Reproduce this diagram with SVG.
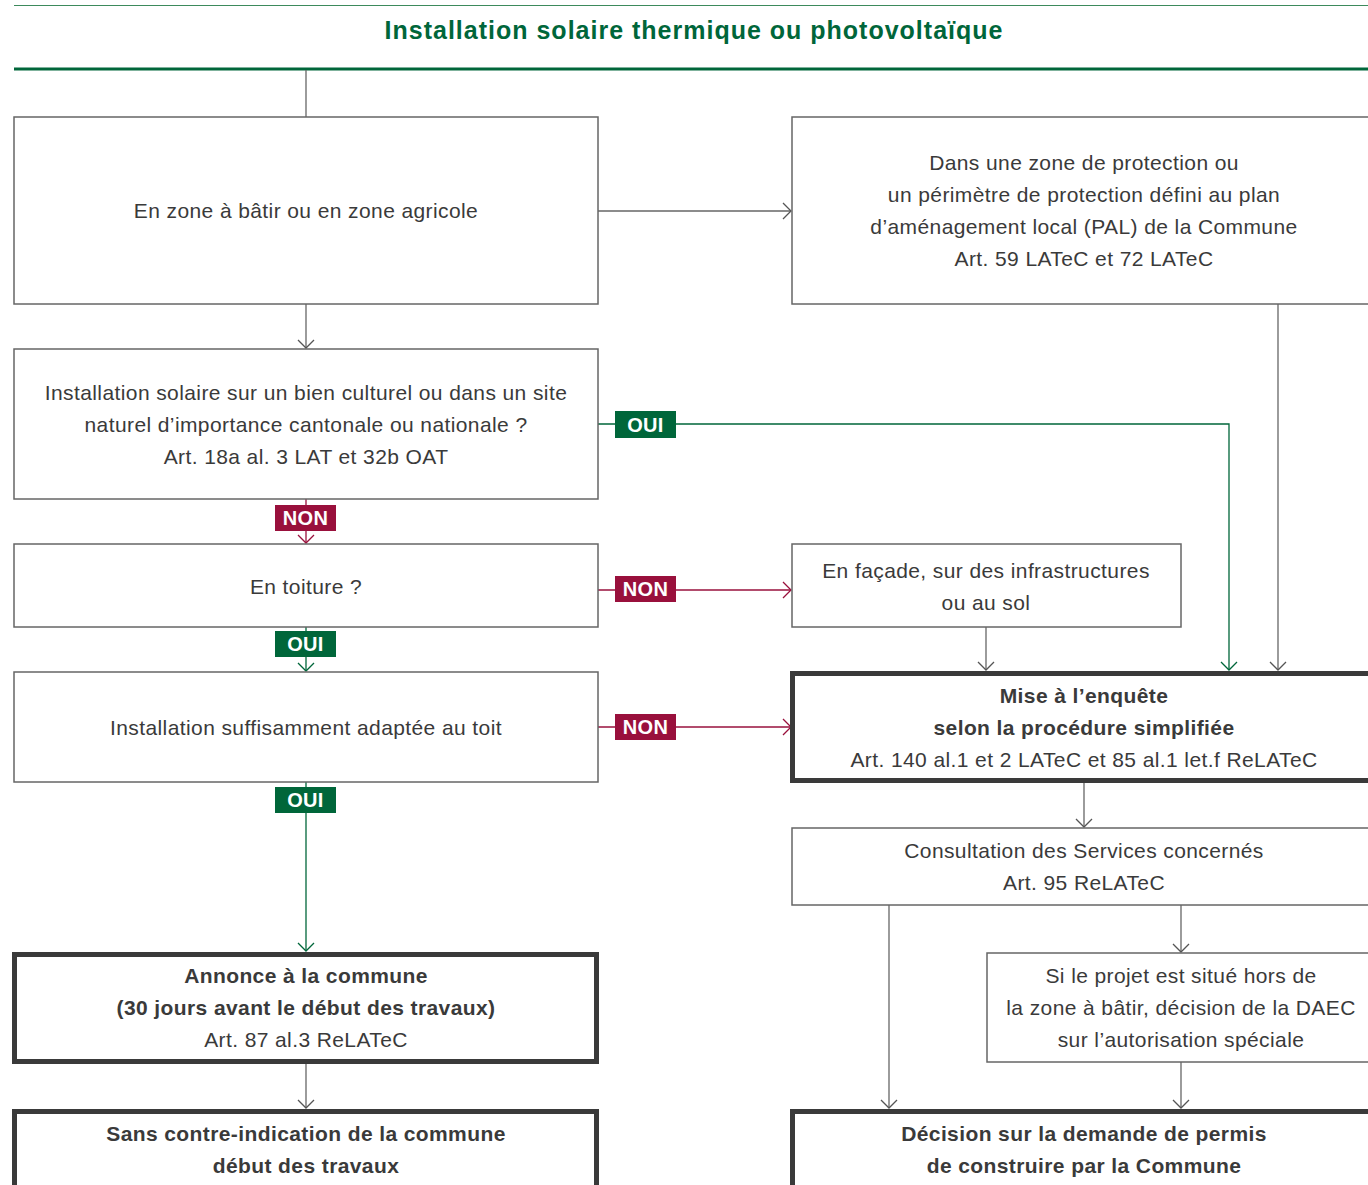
<svg xmlns="http://www.w3.org/2000/svg" width="1368" height="1185" viewBox="0 0 1368 1185">
<style>
.box{fill:#fff;stroke:#666;stroke-width:1.5}
.tbox{fill:#fff;stroke:#3a3a3a;stroke-width:5}
.t{font-family:"Liberation Sans",Arial,sans-serif;font-size:21px;letter-spacing:0.4px;fill:#3a3a3a;text-anchor:middle}
.b{font-weight:bold}
.g{fill:none;stroke:#666;stroke-width:1.3}
.gr{fill:none;stroke:#00663a;stroke-width:1.3}
.rd{fill:none;stroke:#99103c;stroke-width:1.3}
.lab{font-family:"Liberation Sans",Arial,sans-serif;font-size:20px;font-weight:bold;fill:#fff;text-anchor:middle;letter-spacing:0.3px}
</style>
<defs>
<marker id="ag" markerUnits="userSpaceOnUse" markerWidth="20" markerHeight="20" refX="10" refY="10" orient="auto"><path d="M2,2 L10,10 L2,18" fill="none" stroke="#555" stroke-width="1.3"/></marker>
<marker id="agr" markerUnits="userSpaceOnUse" markerWidth="20" markerHeight="20" refX="10" refY="10" orient="auto"><path d="M2,2 L10,10 L2,18" fill="none" stroke="#00663a" stroke-width="1.3"/></marker>
<marker id="ard" markerUnits="userSpaceOnUse" markerWidth="20" markerHeight="20" refX="10" refY="10" orient="auto"><path d="M2,2 L10,10 L2,18" fill="none" stroke="#99103c" stroke-width="1.3"/></marker>
</defs>
<rect width="1368" height="1185" fill="#fff"/>
<g id="header">
<line x1="14" y1="5.5" x2="1368" y2="5.5" stroke="#3d8a5c" stroke-width="1"/>
<text x="694" y="39" font-family="'Liberation Sans',Arial,sans-serif" font-size="25" font-weight="bold" letter-spacing="1" fill="#00663a" text-anchor="middle">Installation solaire thermique ou photovoltaïque</text>
<line x1="14" y1="69" x2="1368" y2="69" stroke="#00663a" stroke-width="3"/>
</g>
<g id="connectors">
<line class="g" x1="306" y1="70" x2="306" y2="117"/>
<line class="g" x1="598" y1="211" x2="791" y2="211" marker-end="url(#ag)"/>
<line class="g" x1="1278" y1="304" x2="1278" y2="670" marker-end="url(#ag)"/>
<line class="g" x1="306" y1="304" x2="306" y2="348" marker-end="url(#ag)"/>
<polyline class="gr" points="598,424 1229,424 1229,670" marker-end="url(#agr)"/>
<line class="rd" x1="306" y1="499" x2="306" y2="543" marker-end="url(#ard)"/>
<line class="rd" x1="598" y1="590" x2="791" y2="590" marker-end="url(#ard)"/>
<line class="g" x1="986" y1="627" x2="986" y2="670" marker-end="url(#ag)"/>
<line class="gr" x1="306" y1="627" x2="306" y2="671" marker-end="url(#agr)"/>
<line class="rd" x1="598" y1="727" x2="791" y2="727" marker-end="url(#ard)"/>
<line class="gr" x1="306" y1="782" x2="306" y2="951" marker-end="url(#agr)"/>
<line class="g" x1="306" y1="1062" x2="306" y2="1108" marker-end="url(#ag)"/>
<line class="g" x1="1084" y1="782" x2="1084" y2="827" marker-end="url(#ag)"/>
<line class="g" x1="889" y1="905" x2="889" y2="1108" marker-end="url(#ag)"/>
<line class="g" x1="1181" y1="905" x2="1181" y2="952" marker-end="url(#ag)"/>
<line class="g" x1="1181" y1="1062" x2="1181" y2="1108" marker-end="url(#ag)"/>
</g>
<g id="n1"><rect class="box" x="14" y="117" width="584" height="187"/><text class="t" x="306" y="218">En zone à bâtir ou en zone agricole</text></g>
<g id="n2"><rect class="box" x="792" y="117" width="590" height="187"/>
<text class="t" x="1084" y="170">Dans une zone de protection ou</text>
<text class="t" x="1084" y="202">un périmètre de protection défini au plan</text>
<text class="t" x="1084" y="234">d’aménagement local (PAL) de la Commune</text>
<text class="t" x="1084" y="266">Art. 59 LATeC et 72 LATeC</text></g>
<g id="n3"><rect class="box" x="14" y="349" width="584" height="150"/>
<text class="t" x="306" y="400">Installation solaire sur un bien culturel ou dans un site</text>
<text class="t" x="306" y="432">naturel d’importance cantonale ou nationale ?</text>
<text class="t" x="306" y="464">Art. 18a al. 3 LAT et 32b OAT</text></g>
<g id="n4"><rect class="box" x="14" y="544" width="584" height="83"/><text class="t" x="306" y="594">En toiture ?</text></g>
<g id="n5"><rect class="box" x="792" y="544" width="389" height="83"/>
<text class="t" x="986" y="578">En façade, sur des infrastructures</text>
<text class="t" x="986" y="610">ou au sol</text></g>
<g id="n6"><rect class="box" x="14" y="672" width="584" height="110"/><text class="t" x="306" y="735">Installation suffisamment adaptée au toit</text></g>
<g id="n7"><rect class="tbox" x="792.5" y="673.5" width="590" height="107"/>
<text class="t b" x="1084" y="703">Mise à l’enquête</text>
<text class="t b" x="1084" y="735">selon la procédure simplifiée</text>
<text class="t" x="1084" y="767">Art. 140 al.1 et 2 LATeC et 85 al.1 let.f ReLATeC</text></g>
<g id="n8"><rect class="tbox" x="14.5" y="954.5" width="582" height="107"/>
<text class="t b" x="306" y="983">Annonce à la commune</text>
<text class="t b" x="306" y="1015">(30 jours avant le début des  travaux)</text>
<text class="t" x="306" y="1047">Art. 87 al.3 ReLATeC</text></g>
<g id="n9"><rect class="tbox" x="14.5" y="1111.5" width="582" height="100"/>
<text class="t b" x="306" y="1141">Sans contre-indication de la commune</text>
<text class="t b" x="306" y="1173">début des travaux</text></g>
<g id="n10"><rect class="box" x="792" y="828" width="590" height="77"/>
<text class="t" x="1084" y="858">Consultation des Services concernés</text>
<text class="t" x="1084" y="890">Art. 95 ReLATeC</text></g>
<g id="n11"><rect class="box" x="987" y="953" width="395" height="109"/>
<text class="t" x="1181" y="983">Si le projet est situé hors de</text>
<text class="t" x="1181" y="1015">la zone à bâtir, décision de la DAEC</text>
<text class="t" x="1181" y="1047">sur l’autorisation spéciale</text></g>
<g id="n12"><rect class="tbox" x="792.5" y="1111.5" width="590" height="100"/>
<text class="t b" x="1084" y="1141">Décision sur la demande de permis</text>
<text class="t b" x="1084" y="1173">de construire par la Commune</text></g>
<g id="labels">
<g id="l1"><rect x="615" y="411" width="61" height="27" fill="#00663a"/><text class="lab" x="645.5" y="432">OUI</text></g>
<g id="l2"><rect x="275" y="505" width="61" height="26" fill="#99103c"/><text class="lab" x="305.5" y="525">NON</text></g>
<g id="l3"><rect x="615" y="576" width="61" height="26" fill="#99103c"/><text class="lab" x="645.5" y="596">NON</text></g>
<g id="l4"><rect x="275" y="631" width="61" height="26" fill="#00663a"/><text class="lab" x="305.5" y="651">OUI</text></g>
<g id="l5"><rect x="615" y="714" width="61" height="26" fill="#99103c"/><text class="lab" x="645.5" y="734">NON</text></g>
<g id="l6"><rect x="275" y="787" width="61" height="26" fill="#00663a"/><text class="lab" x="305.5" y="807">OUI</text></g>
</g>
</svg>
